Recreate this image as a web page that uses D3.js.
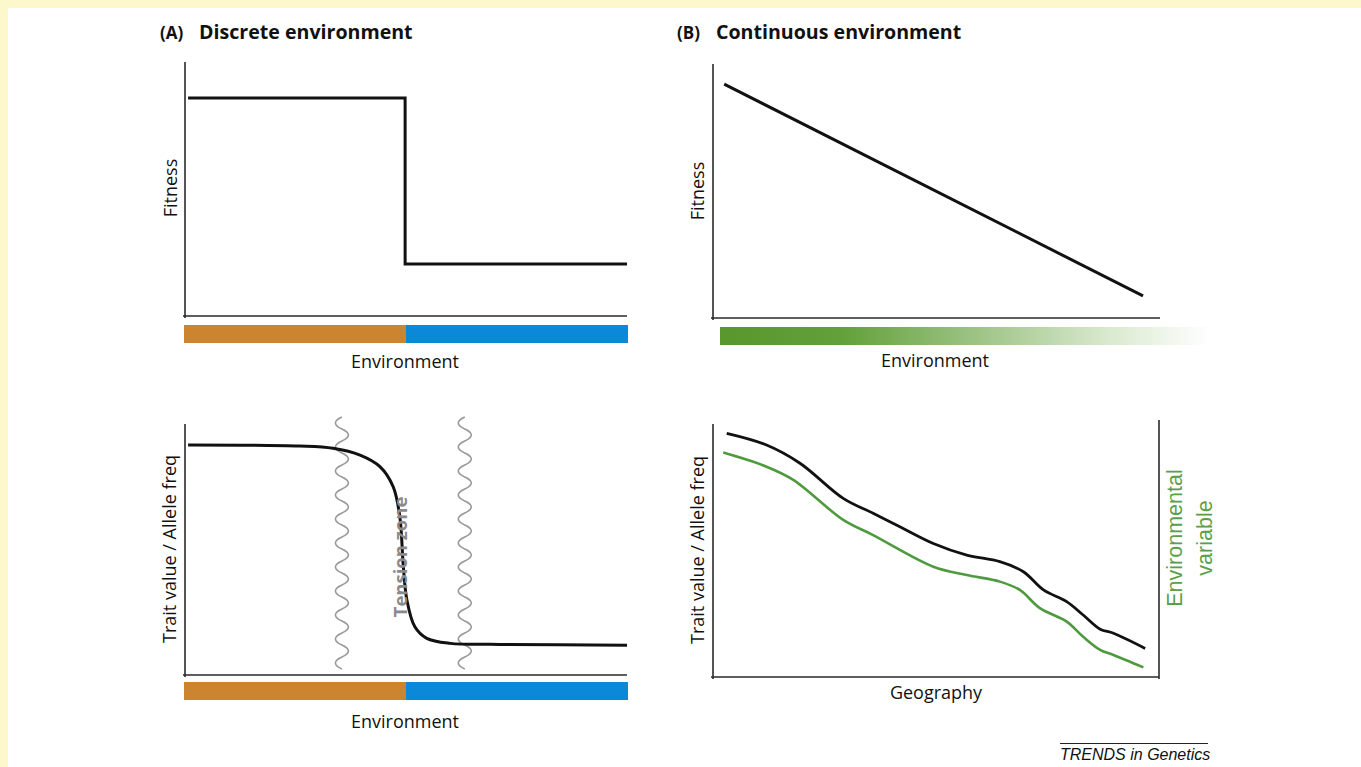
<!DOCTYPE html>
<html><head><meta charset="utf-8">
<script src="https://cdn.jsdelivr.net/npm/d3@7"></script>
<style>
html,body{margin:0;padding:0;background:#fdf8cc;}
svg{display:block;}
</style></head>
<body>
<svg id="chart" width="1361" height="767"></svg>
<script>
// ---------- DATA ----------
const panelTitles = [["(A)", "Discrete environment"], ["(B)", "Continuous environment"]];
const axisLabels = {fitness: "Fitness", trait: "Trait value / Allele freq", env: "Environment", geo: "Geography", envVar: ["Environmental", "variable"], tension: "Tension zone"};
const envCategories = ["Habitat 1", "Habitat 2"];
const envBreaks = [0, 50, 100];
const stepFitness = [{x: 0.7, y: 85.8}, {x: 49.8, y: 20.5}, {x: 100, y: 20.5}];
const clineX = [0.7, 26.0, 33.5, 39.6, 44.1, 47.1, 48.6, 49.4, 50.2, 52.0, 54.7, 60.0, 71.3, 100];
const clineY = [91.6, 91.2, 90.3, 87.6, 83.0, 75.0, 63.1, 43.1, 29.9, 19.2, 14.6, 12.6, 12.2, 11.9];
const wavyX = [35.5, 63.3];
const linearFitness = [{x: 2.5, y: 92.1}, {x: 96.2, y: 8.7}];
const geoX = [3.07, 12.0, 19.5, 29.2, 35.9, 41.9, 49.4, 56.9, 64.3, 69.6, 74.1, 79.3, 83.0, 86.8, 89.8, 96.9];
const traitY = [96.3, 91.7, 84.5, 70.6, 64.7, 59.4, 52.8, 48.2, 45.6, 41.6, 34.4, 29.8, 24.5, 18.9, 17.3, 11.3];
const envGeoX = [2.3, 12.0, 18.0, 29.2, 35.9, 49.4, 56.9, 64.3, 68.8, 73.3, 79.3, 83.0, 86.8, 89.8, 96.5];
const envVarY = [88.7, 83.1, 77.9, 62.1, 56.1, 43.6, 40.3, 37.7, 34.4, 27.2, 21.9, 15.9, 10.7, 8.7, 3.8];
const credit = "TRENDS in Genetics";

// ---------- STYLE ----------
const FONT = "'Open Sans', 'Noto Sans', sans-serif";
const svg = d3.select("#chart");
svg.append("rect").attr("x", 8).attr("y", 8).attr("width", 1353).attr("height", 759).attr("fill", "#ffffff");

const envColors = ["#cd842e", "#0b88d8"];
const axisColor = "#2a2a2a";
const lineColor = "#111111";
const green = "#4f9a3f";
const LABEL = 18;

function axesL(g, x, y, right) {
  const [x0, x1] = x.range(), [y0, y1] = y.range();
  g.append("line").attr("x1", x0 - 2).attr("x2", x1).attr("y1", y0).attr("y2", y0)
    .attr("stroke", axisColor).attr("stroke-width", 1.6);
  g.append("line").attr("x1", x0).attr("x2", x0).attr("y1", y0 + 2).attr("y2", y1)
    .attr("stroke", axisColor).attr("stroke-width", 1.6);
  if (right) {
    g.append("line").attr("x1", x1).attr("x2", x1).attr("y1", y0 + 2).attr("y2", y1 - 4)
      .attr("stroke", axisColor).attr("stroke-width", 1.6);
  }
}
function yLabel(g, text, cx, cy, size, color, weight) {
  g.append("text").attr("transform", `translate(${cx},${cy}) rotate(-90)`)
    .attr("text-anchor", "middle").attr("dominant-baseline", "central")
    .attr("font-family", FONT).attr("font-size", size).attr("fill", color || "#111")
    .attr("font-weight", weight || "normal").text(text);
}
function xLabel(g, text, cx, y) {
  g.append("text").attr("x", cx).attr("y", y).attr("text-anchor", "middle")
    .attr("font-family", FONT).attr("font-size", LABEL).attr("fill", "#111").text(text);
}

// Titles
const titlePos = [[160, 199], [677, 716]];
panelTitles.forEach((t, i) => {
  svg.append("text").attr("x", titlePos[i][0]).attr("y", 39).attr("font-family", FONT)
    .attr("font-weight", "bold").attr("font-size", 17).attr("fill", "#111").text(t[0]);
  svg.append("text").attr("x", titlePos[i][1]).attr("y", 39).attr("font-family", FONT)
    .attr("font-weight", "bold").attr("font-size", 19.6).attr("fill", "#111").text(t[1]);
});

// ---------- Panel A top ----------
{
  const g = svg.append("g");
  const x = d3.scaleLinear().domain([0, 100]).range([185, 627]);
  const y = d3.scaleLinear().domain([0, 100]).range([316, 62]);
  axesL(g, x, y);
  g.append("path").datum(stepFitness)
    .attr("d", d3.line().x(d => x(d.x)).y(d => y(d.y)).curve(d3.curveStepAfter))
    .attr("fill", "none").attr("stroke", lineColor).attr("stroke-width", 3);
  const xb = d3.scaleLinear().domain([0, 100]).range([184, 628]);
  envCategories.forEach((c, i) => {
    g.append("rect").attr("x", xb(envBreaks[i])).attr("width", xb(envBreaks[i + 1]) - xb(envBreaks[i]))
      .attr("y", 325).attr("height", 18).attr("fill", envColors[i]);
  });
  xLabel(g, axisLabels.env, 405, 368);
  yLabel(g, axisLabels.fitness, 170, 188, LABEL);
}

// ---------- Panel A bottom ----------
{
  const g = svg.append("g");
  const x = d3.scaleLinear().domain([0, 100]).range([185, 627]);
  const y = d3.scaleLinear().domain([0, 100]).range([675, 424]);
  axesL(g, x, y);
  // wavy barriers
  wavyX.forEach(wx => {
    const cx = x(wx);
    const top = 417, bot = 671, period = 24, amp = 6.5;
    let d = `M${cx},${top}`;
    let yy = top, k = 0;
    while (yy + period / 2 <= bot + 0.1) {
      const s = (k % 2 === 0) ? -1 : 1;
      d += ` Q${cx + s * amp * 2},${yy + period / 4} ${cx},${yy + period / 2}`;
      yy += period / 2; k++;
    }
    g.append("path").attr("d", d).attr("fill", "none").attr("stroke", "#9a9a9a").attr("stroke-width", 1.6);
  });
  const cline = clineX.map((v, i) => ({x: v, y: clineY[i]}));
  g.append("path").datum(cline)
    .attr("d", d3.line().x(d => x(d.x)).y(d => y(d.y)).curve(d3.curveCatmullRom.alpha(0.5)))
    .attr("fill", "none").attr("stroke", lineColor).attr("stroke-width", 3);
  yLabel(g, axisLabels.tension, 399, 557, 18.5, "#8a8a8a", "bold");
  const xb = d3.scaleLinear().domain([0, 100]).range([184, 628]);
  envCategories.forEach((c, i) => {
    g.append("rect").attr("x", xb(envBreaks[i])).attr("width", xb(envBreaks[i + 1]) - xb(envBreaks[i]))
      .attr("y", 682).attr("height", 18).attr("fill", envColors[i]);
  });
  xLabel(g, axisLabels.env, 405, 728);
  yLabel(g, axisLabels.trait, 169, 549, LABEL);
}

// ---------- Panel B top ----------
{
  const g = svg.append("g");
  const x = d3.scaleLinear().domain([0, 100]).range([713, 1160]);
  const y = d3.scaleLinear().domain([0, 100]).range([318, 64]);
  axesL(g, x, y);
  g.append("path").datum(linearFitness)
    .attr("d", d3.line().x(d => x(d.x)).y(d => y(d.y)))
    .attr("fill", "none").attr("stroke", lineColor).attr("stroke-width", 3);
  const grad = svg.append("defs").append("linearGradient").attr("id", "envgrad")
    .attr("x1", "0%").attr("x2", "100%").attr("y1", "0%").attr("y2", "0%");
  [[0, "#57972d"], [0.25, "#62a13a"], [0.55, "#a3c78c"], [0.8, "#dbead0"], [1, "#ffffff"]].forEach(s => {
    grad.append("stop").attr("offset", s[0]).attr("stop-color", s[1]);
  });
  g.append("rect").attr("x", 720).attr("y", 327).attr("width", 490).attr("height", 18).attr("fill", "url(#envgrad)");
  xLabel(g, axisLabels.env, 935, 367);
  yLabel(g, axisLabels.fitness, 697, 191, LABEL);
}

// ---------- Panel B bottom ----------
{
  const g = svg.append("g");
  const x = d3.scaleLinear().domain([0, 100]).range([713, 1159]);
  const y = d3.scaleLinear().domain([0, 100]).range([677, 424]);
  axesL(g, x, y, true);
  const line = d3.line().x(d => x(d.x)).y(d => y(d.y)).curve(d3.curveCatmullRom.alpha(0.5));
  g.append("path").datum(envGeoX.map((v, i) => ({x: v, y: envVarY[i]})))
    .attr("d", line).attr("fill", "none").attr("stroke", green).attr("stroke-width", 2.6);
  g.append("path").datum(geoX.map((v, i) => ({x: v, y: traitY[i]})))
    .attr("d", line).attr("fill", "none").attr("stroke", lineColor).attr("stroke-width", 2.8);
  xLabel(g, axisLabels.geo, 936, 699);
  yLabel(g, axisLabels.trait, 697, 550, LABEL);
  [1175, 1205].forEach((cx, i) => {
    g.append("text").attr("transform", `translate(${cx},538) rotate(-90)`)
      .attr("text-anchor", "middle").attr("dominant-baseline", "central")
      .attr("font-family", "'Liberation Sans', Arial, sans-serif").attr("font-size", 21.5)
      .attr("fill", "#5aa04a").text(axisLabels.envVar[i]);
  });
}

// credit
svg.append("line").attr("x1", 1060).attr("x2", 1208).attr("y1", 743.5).attr("y2", 743.5)
  .attr("stroke", "#222").attr("stroke-width", 1);
svg.append("text").attr("x", 1060).attr("y", 760).attr("font-family", "'Liberation Sans', Arial, sans-serif")
  .attr("font-style", "italic").attr("font-size", 16).attr("fill", "#111").text(credit);
</script>
</body></html>
